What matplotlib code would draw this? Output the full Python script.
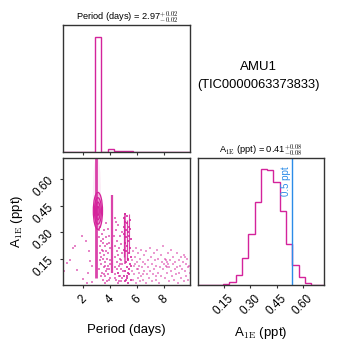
import numpy as np
import matplotlib
matplotlib.use("Agg")
import matplotlib.pyplot as plt
from matplotlib.patches import Ellipse

plt.rcParams['font.family'] = ['Liberation Sans', 'DejaVu Sans']
plt.rcParams['mathtext.fontset'] = 'cm'

PINK = "#d4239b"
BLUE = "#2b8ce8"

# 1D marginal histograms (20 bins each, normalised to peak)
period_range = (0.56, 9.93)
period_counts = [0, 0, 0, 0, 0, 1.0, 0, 0.029, 0.006, 0.006, 0.005,
                 0, 0, 0, 0, 0, 0, 0, 0, 0]
amp_range = (0.0, 0.72)
amp_counts = [0, 0, 0, 0.003, 0.009, 0.026, 0.084, 0.229, 0.44, 0.719,
              1.0, 0.995, 0.89, 0.635, 0.354, 0.174, 0.067, 0.014, 0.003, 0]
amp_limit = 0.54

# dense vertical streaks in the 2D panel
streak_x = [3.00, 4.18, 5.02, 5.15, 5.30, 5.45]
streak_lo = [0.04, 0.07, 0.16, 0.12, 0.14, 0.18]
streak_hi = [0.73, 0.51, 0.39, 0.41, 0.37, 0.40]

# contour levels around the best solution
contour_center = (3.12, 0.42)
contour_w = [0.18, 0.34, 0.52, 0.68]
contour_h = [0.05, 0.10, 0.15, 0.21]

# scattered samples
sparse_x = [0.61, 0.81, 1.06, 1.26, 1.43, 1.55, 1.92, 2.04, 2.24, 2.30, 2.39,
            2.49, 2.54, 2.67, 2.70]
sparse_y = [0.077, 0.125, 0.144, 0.207, 0.22, 0.086, 0.28, 0.033, 0.247, 0.01,
            0.067, 0.19, 0.134, 0.019, 0.11]

mid_x = [3.18, 3.22, 3.25, 3.30, 3.28, 3.35, 3.38, 3.40, 3.42, 3.45, 3.48, 3.50,
         3.52, 3.55, 3.58, 3.60, 3.62, 3.65, 3.68, 3.70, 3.72, 3.75, 3.78, 3.80,
         3.82, 3.85, 3.88, 3.90, 3.92, 3.95, 3.98, 4.02, 4.05, 3.20, 3.33, 3.46,
         3.66, 3.74, 3.87, 3.96, 3.24, 3.36, 3.57, 3.63, 3.79, 3.93, 4.00, 3.52,
         4.32, 4.35, 4.38, 4.40, 4.42, 4.45, 4.48, 4.50, 4.52, 4.55, 4.58, 4.60,
         4.62, 4.65, 4.68, 4.70, 4.72, 4.75, 4.78, 4.80, 4.82, 4.85, 4.88, 4.90,
         4.92, 4.95, 4.44, 4.57, 4.74, 4.36, 4.41, 4.63, 4.86, 4.53, 4.69, 4.91]
mid_y = [0.31, 0.27, 0.22, 0.33, 0.18, 0.25, 0.12, 0.29, 0.07, 0.20, 0.15, 0.03,
         0.24, 0.10, 0.31, 0.17, 0.05, 0.22, 0.13, 0.27, 0.08, 0.19, 0.02, 0.15,
         0.23, 0.11, 0.06, 0.18, 0.28, 0.09, 0.14, 0.21, 0.04, 0.09, 0.05, 0.26,
         0.01, 0.35, 0.32, 0.24, 0.14, 0.16, 0.06, 0.11, 0.09, 0.03, 0.12, 0.19,
         0.28, 0.06, 0.16, 0.22, 0.10, 0.31, 0.03, 0.19, 0.13, 0.25, 0.07, 0.17,
         0.34, 0.11, 0.02, 0.21, 0.15, 0.28, 0.05, 0.09, 0.23, 0.14, 0.30, 0.04,
         0.18, 0.08, 0.36, 0.01, 0.12, 0.38, 0.04, 0.07, 0.02, 0.09, 0.05, 0.12]

band_x = [5.02, 5.05, 5.08, 5.10, 5.12, 5.15, 5.18, 5.20, 5.22, 5.25, 5.28, 5.30,
          5.32, 5.35, 5.38, 5.40, 5.42, 5.45, 5.48, 5.50, 5.52, 5.55, 5.58, 5.06,
          5.16, 5.26, 5.36, 5.46, 5.04, 5.14, 5.24, 5.34, 5.44, 5.56, 5.11, 5.29,
          5.41, 5.53, 5.19, 5.33]
band_y = [0.38, 0.33, 0.29, 0.36, 0.24, 0.40, 0.31, 0.19, 0.27, 0.35, 0.22, 0.39,
          0.15, 0.30, 0.25, 0.33, 0.18, 0.28, 0.37, 0.21, 0.32, 0.26, 0.16, 0.20,
          0.13, 0.10, 0.07, 0.12, 0.05, 0.02, 0.04, 0.01, 0.06, 0.03, 0.08, 0.05,
          0.09, 0.11, 0.03, 0.14]

far_x = [5.62, 5.65, 5.70, 5.74, 5.78, 5.82, 5.86, 5.90, 5.94, 5.98, 6.02, 6.06,
         6.10, 6.14, 6.18, 6.22, 6.26, 6.30, 6.34, 6.38, 6.42, 6.46, 6.50, 6.55,
         6.60, 6.65, 6.70, 6.75, 6.80, 6.85, 6.90, 6.95, 7.00, 7.05, 7.10, 7.15,
         7.20, 7.25, 7.30, 7.35, 7.40, 7.45, 7.50, 7.55, 7.60, 7.65, 7.70, 7.75,
         7.80, 7.85, 7.90, 7.95, 8.00, 8.05, 8.10, 8.15, 8.20, 8.25, 8.30, 8.35,
         8.40, 8.45, 8.50, 8.55, 8.60, 8.65, 8.70, 8.75, 8.80, 8.85, 8.90, 8.95,
         9.00, 9.05, 9.10, 9.15, 9.20, 9.25, 9.30, 9.35, 9.40, 9.45, 9.50, 9.55,
         9.60, 9.65, 9.70, 9.75, 9.80, 9.85, 9.90, 6.12, 6.48, 5.88, 8.18, 8.22,
         8.28, 9.58, 7.38]
far_y = [0.08, 0.14, 0.03, 0.19, 0.11, 0.06, 0.16, 0.01, 0.21, 0.09, 0.13, 0.04,
         0.18, 0.07, 0.11, 0.02, 0.15, 0.20, 0.05, 0.10, 0.13, 0.03, 0.17, 0.08,
         0.12, 0.01, 0.19, 0.06, 0.14, 0.10, 0.04, 0.21, 0.08, 0.16, 0.02, 0.12,
         0.06, 0.18, 0.09, 0.14, 0.03, 0.11, 0.20, 0.07, 0.15, 0.01, 0.10, 0.17,
         0.05, 0.13, 0.22, 0.09, 0.12, 0.04, 0.15, 0.11, 0.13, 0.07, 0.18, 0.10,
         0.02, 0.14, 0.08, 0.20, 0.05, 0.12, 0.16, 0.03, 0.09, 0.13, 0.06, 0.18,
         0.10, 0.01, 0.14, 0.07, 0.11, 0.16, 0.04, 0.09, 0.13, 0.02, 0.17, 0.08,
         0.12, 0.05, 0.15, 0.10, 0.03, 0.11, 0.07, 0.09, 0.06, 0.12, 0.14, 0.10,
         0.12, 0.16, 0.05]

W = 349.0
fig = plt.figure(figsize=(3.49, 3.49), dpi=100)
ax_top = fig.add_axes([63.3 / W, (W - 152) / W, 126.7 / W, 127 / W])
ax_sc = fig.add_axes([63.3 / W, 64 / W, 126.7 / W, 127 / W])
ax_r = fig.add_axes([197.7 / W, 64 / W, 126.3 / W, 127.5 / W])

for ax in (ax_top, ax_sc, ax_r):
    for sp in ax.spines.values():
        sp.set_linewidth(1.0)
        sp.set_color("#333333")
    ax.tick_params(direction="out", length=2.5, width=0.8, labelsize=8.5,
                   color="#333333", pad=3)

# top: period marginal
p_edges = np.linspace(period_range[0], period_range[1], len(period_counts) + 1)
ax_top.stairs(period_counts, p_edges, color=PINK, lw=1.0, baseline=0)
ax_top.set_xlim(period_range)
ax_top.set_ylim(0, 1.1 * max(period_counts))
ax_top.set_xticks([2, 4, 6, 8])
ax_top.set_xticklabels([])
ax_top.set_yticks([])
ax_top.set_title(r"Period (days) = 2.97$^{+0.02}_{-0.02}$", fontsize=6.7, pad=3)

# 2D panel
ax_sc.add_patch(Ellipse((3.05, 0.52), 0.6, 0.42, color=PINK, alpha=0.08, lw=0))
ax_sc.vlines(streak_x, streak_lo, streak_hi, colors=PINK,
             linewidths=[2.0, 1.6, 0.9, 1.1, 0.9, 0.8], alpha=0.85)
for xs, ys, a in ((sparse_x, sparse_y, 0.55), (mid_x, mid_y, 0.6),
                  (band_x, band_y, 0.8), (far_x, far_y, 0.45)):
    ax_sc.plot(xs, ys, "s", ms=1.5, mew=0, color=PINK, alpha=a)
for w, h in zip(contour_w, contour_h):
    ax_sc.add_patch(Ellipse(contour_center, w, h, facecolor=PINK, alpha=0.25,
                            lw=0))
    ax_sc.add_patch(Ellipse(contour_center, w, h, fill=False, edgecolor=PINK,
                            lw=0.9))
ax_sc.set_xlim(period_range)
ax_sc.set_ylim(amp_range)
ax_sc.set_xticks([2, 4, 6, 8])
ax_sc.set_yticks([0.15, 0.30, 0.45, 0.60])
ax_sc.set_yticklabels(["0.15", "0.30", "0.45", "0.60"])
for lab in ax_sc.get_xticklabels() + ax_sc.get_yticklabels():
    lab.set_rotation(45)
ax_sc.set_xlabel("Period (days)", fontsize=9.5)
ax_sc.set_ylabel(r"A$_{\rm 1E}$ (ppt)", fontsize=9.5)
ax_sc.xaxis.set_label_coords(0.5, -0.31)
ax_sc.yaxis.set_label_coords(-0.30, 0.5)

# right: amplitude marginal
a_edges = np.linspace(amp_range[0], amp_range[1], len(amp_counts) + 1)
ax_r.stairs(amp_counts, a_edges, color=PINK, lw=1.0, baseline=0)
ax_r.axvline(amp_limit, color=BLUE, lw=1.0)
ax_r.text(amp_limit - 0.008, 0.93, "0.5 ppt", rotation=90, color=BLUE,
          fontsize=7, ha="right", va="top",
          transform=ax_r.get_xaxis_transform())
ax_r.set_xlim(amp_range)
ax_r.set_ylim(0, 1.1 * max(amp_counts))
ax_r.set_xticks([0.15, 0.30, 0.45, 0.60])
ax_r.set_xticklabels(["0.15", "0.30", "0.45", "0.60"])
for lab in ax_r.get_xticklabels():
    lab.set_rotation(45)
ax_r.set_yticks([])
ax_r.set_xlabel(r"A$_{\rm 1E}$ (ppt)", fontsize=9.5)
ax_r.xaxis.set_label_coords(0.5, -0.31)
ax_r.set_title(r"A$_{\rm 1E}$ (ppt) = 0.41$^{+0.08}_{-0.08}$", fontsize=6.7, pad=3)

fig.text(258 / W, 1 - 67 / W, "AMU1", ha="center", va="center", fontsize=9.5)
fig.text(258 / W, 1 - 85 / W, "(TIC0000063373833)", ha="center", va="center",
         fontsize=9.3)

fig.savefig("out.png", dpi=100)
